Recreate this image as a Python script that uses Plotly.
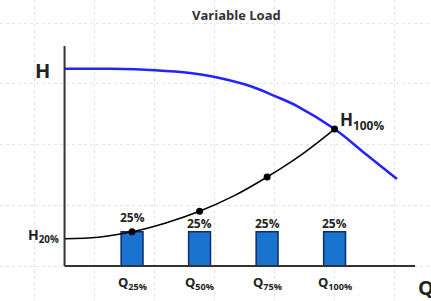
import plotly.graph_objects as go

# ---- data (flow Q in %, head H in %) ----
pump_q = [0, 16.9, 33.5, 46.5, 55.7, 68.7, 78, 86.1, 100, 111.5, 123.1]
pump_h = [144, 144, 143, 141, 138, 131.4, 124, 116.8, 100, 81.8, 63.5]

sys_q = [0, 12.5, 25, 37.5, 50, 62.5, 75, 87.5, 100]
sys_h = [20, 21, 25, 31.5, 40, 51, 65, 81, 100]

op_q = [25, 50, 75, 100]
op_h = [25, 40, 65, 100]

bar_q = [25, 50, 75, 100]
bar_share = [25, 25, 25, 25]
bar_labels = ["25%", "25%", "25%", "25%"]
q_labels = ["Q<sub>25%</sub>", "Q<sub>50%</sub>", "Q<sub>75%</sub>", "Q<sub>100%</sub>"]

FONT = "Open Sans"
TXT = "#222222"

fig = go.Figure()

fig.add_trace(go.Bar(
    x=bar_q, y=bar_share, width=8.1,
    marker=dict(color="#1b73d0", line=dict(color="#0c2c6e", width=1.5)),
    showlegend=False, hoverinfo="skip"))

fig.add_trace(go.Scatter(
    x=sys_q, y=sys_h, mode="lines",
    line=dict(color="black", width=1.5, shape="spline"),
    showlegend=False))

fig.add_trace(go.Scatter(
    x=pump_q, y=pump_h, mode="lines",
    line=dict(color="#2323ff", width=2.5, shape="spline"),
    showlegend=False))

fig.add_trace(go.Scatter(
    x=op_q, y=op_h, mode="markers",
    marker=dict(color="black", size=7),
    showlegend=False))

# axes lines
fig.add_shape(type="line", x0=0, x1=0, y0=0, y1=160.6, xref="x", yref="y",
              line=dict(color="#333333", width=2))
fig.add_shape(type="line", x0=0, x1=129.8, y0=0, y1=0, xref="x", yref="y",
              line=dict(color="#333333", width=2))

ann = []
ann.append(dict(text="<b>Variable Load</b>", xref="paper", yref="paper",
                x=0.5476, y=0.95, xanchor="center", yanchor="middle", showarrow=False,
                font=dict(family=FONT, size=13, color="#333333")))
ann.append(dict(text="<b>H</b>", x=-8.3, y=143, showarrow=False,
                font=dict(family=FONT, size=20, color=TXT)))
ann.append(dict(text="<b>H<sub>20%</sub></b>", x=-1.3, y=22, xanchor="right",
                showarrow=False, font=dict(family=FONT, size=14, color=TXT)))
ann.append(dict(text="<b>H<sub>100%</sub></b>", x=101.2, y=106.6, xanchor="left",
                showarrow=False, font=dict(family=FONT, size=17, color=TXT)))
for i, (q, lab) in enumerate(zip(bar_q, bar_labels)):
    yy = 35.8 if i == 0 else 31.4
    ann.append(dict(text="<b>" + lab + "</b>", x=q, y=yy, showarrow=False,
                    font=dict(family=FONT, size=12, color=TXT)))
for q, lab in zip(bar_q, q_labels):
    ann.append(dict(text="<b>" + lab + "</b>", x=q, y=-12.4, showarrow=False,
                    font=dict(family=FONT, size=13, color=TXT)))
ann.append(dict(text="<b>Q</b>", x=133.8, y=-16, showarrow=False,
                font=dict(family=FONT, size=20, color=TXT)))

fig.update_layout(
    width=431, height=301,
    margin=dict(l=0, r=0, t=0, b=0),
    paper_bgcolor="white", plot_bgcolor="white",
    annotations=ann,
    xaxis=dict(range=[-23.9, 135.7], showgrid=True, tick0=100, dtick=22.22,
               griddash="dot", gridcolor="#e4e4e4", gridwidth=1,
               showticklabels=False, zeroline=False, showline=False, ticks=""),
    yaxis=dict(range=[-25.5, 194.2], showgrid=True, tick0=0, dtick=44.3,
               griddash="dot", gridcolor="#e4e4e4", gridwidth=1,
               showticklabels=False, zeroline=False, showline=False, ticks=""),
)

fig.write_html("out.html", config={"displayModeBar": False},
               post_script="document.body.style.margin='0';document.body.style.overflow='hidden';")
